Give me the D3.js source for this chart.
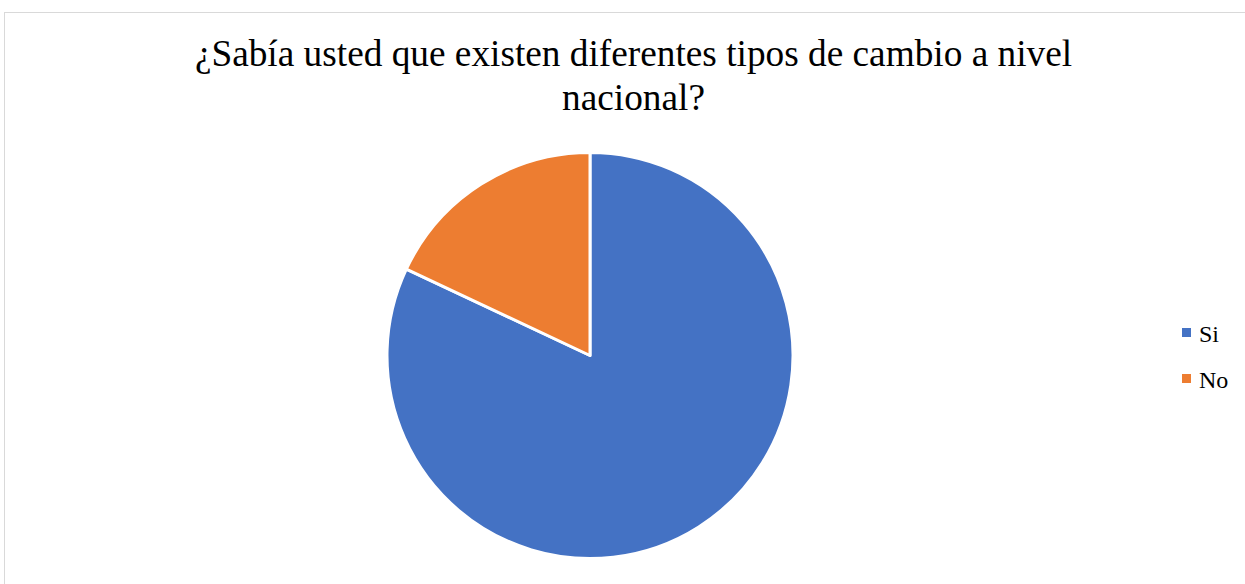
<!DOCTYPE html>
<html>
<head>
<meta charset="utf-8">
<script src="https://cdn.jsdelivr.net/npm/d3@7"></script>
<style>
  html, body { margin: 0; padding: 0; background: #fff; }
  svg { display: block; }
</style>
</head>
<body>
<svg id="chart" width="1245" height="584"></svg>
<script>
const categories = ["Si", "No"];
const values = [82, 18];
const colors = ["#4472C4", "#ED7D31"];
const titleLines = ["¿Sabía usted que existen diferentes tipos de cambio a nivel", "nacional?"];

const svg = d3.select("#chart");
const FONT = '"Liberation Serif"';

// chart area border
svg.append("rect")
  .attr("x", 4.5).attr("y", 12.5)
  .attr("width", 1300).attr("height", 700)
  .attr("fill", "#fff")
  .attr("stroke", "#d9d9d9").attr("stroke-width", 1);

// title (one text element per line)
svg.selectAll("text.title")
  .data(titleLines)
  .join("text")
  .attr("class", "title")
  .attr("x", 633.5)
  .attr("y", (d, i) => 66 + i * 43.5)
  .attr("text-anchor", "middle")
  .attr("font-family", FONT)
  .style("font-family", FONT)
  .attr("font-size", 37.3)
  .attr("fill", "#000")
  .text(d => d);

// pie
const cx = 590, cy = 355.5, r = 203;
const pie = d3.pie().sort(null).value(d => d.value);
const arc = d3.arc().innerRadius(0).outerRadius(r);
const data = categories.map((c, i) => ({ name: c, value: values[i] }));
const color = d3.scaleOrdinal().domain(categories).range(colors);

svg.append("g")
  .attr("transform", `translate(${cx},${cy})`)
  .selectAll("path")
  .data(pie(data))
  .join("path")
  .attr("d", arc)
  .attr("fill", d => color(d.data.name))
  .attr("stroke", "#fff")
  .attr("stroke-width", 3)
  .attr("stroke-linejoin", "round");

// legend
const legend = svg.append("g");
const items = legend.selectAll("g")
  .data(categories)
  .join("g")
  .attr("transform", (d, i) => `translate(1182,${328 + i * 46})`);
items.append("rect")
  .attr("width", 9).attr("height", 9)
  .attr("fill", d => color(d));
items.append("text")
  .attr("font-family", FONT)
  .style("font-family", FONT)
  .attr("x", 17).attr("y", 14)
  .attr("font-size", 24)
  .attr("fill", "#000")
  .text(d => d);
</script>
</body>
</html>
